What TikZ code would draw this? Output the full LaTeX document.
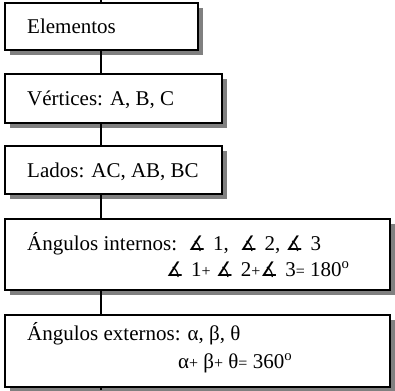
\documentclass[tikz,border=0pt]{standalone}
\usepackage{fontspec}
\setmainfont{Liberation Serif}
\newfontfamily\symfont{DejaVu Sans}
\usetikzlibrary{backgrounds}
\newcommand{\ang}{{\symfont\fontsize{20}{20}\selectfont ∡}\hspace{7pt}}
\newcommand{\sop}[1]{{\fontsize{16}{16}\selectfont #1}}
\begin{document}
\begin{tikzpicture}[x=1pt,y=-1pt,
  box/.style={draw=black, line width=1.3pt, fill=white, rectangle, anchor=north west,
    inner sep=0pt, outer sep=0pt},
  shade/.style={fill=black!50},
  txt/.style={anchor=base west, inner sep=0pt, font=\fontsize{21}{25}\selectfont},
  conn/.style={line width=1.3pt}]
\useasboundingbox (0,0) rectangle (395,390);
\node[box, minimum width=193pt, minimum height=47pt] (b1) at (5,3) {};
\node[box, minimum width=217pt, minimum height=49pt] (b2) at (5,74) {};
\node[box, minimum width=217pt, minimum height=48pt] (b3) at (5,146) {};
\node[box, minimum width=385pt, minimum height=71pt] (b4) at (5,219) {};
\node[box, minimum width=385pt, minimum height=72pt] (b5) at (5,315) {};
\begin{scope}[on background layer]
  \foreach \b in {b1,b2,b3,b4,b5}
    \fill[shade] ([shift={(5,5)}]\b.south west) rectangle ([shift={(5,5)}]\b.north east);
\end{scope}
\coordinate (top) at (101,0);
\coordinate (bot) at (101,390);
\draw[conn] (top) -- (top |- b1.north);
\draw[conn] (top |- b1.south) -- (top |- b2.north);
\draw[conn] (top |- b2.south) -- (top |- b3.north);
\draw[conn] (top |- b3.south) -- (top |- b4.north);
\draw[conn] (top |- b4.south) -- (top |- b5.north);
\draw[conn] (top |- b5.south) -- (bot);
\node[txt] (t1) at (27,34) {Elementos};
\node[txt] (t2) at (27,106) {Vértices: A, B, C};
\node[txt] (t3) at (27,177) {Lados: AC, AB, BC};
\node[txt] (t4a) at (27,250) {Ángulos internos:\hspace{11pt}\ang 1,\hspace{11pt}\ang 2, \ang 3};
\node[txt] (t4b) at (166,276) {\ang 1\sop{+} \ang 2\sop{+}\ang 3\sop{=} 180\textsuperscript{o}};
\node[txt] (t5a) at (27,340) {Ángulos externos: α, β, θ};
\node[txt] (t5b) at (178,368) {α\sop{+} β\sop{+} θ\sop{=} 360\textsuperscript{o}};
\end{tikzpicture}
\end{document}
